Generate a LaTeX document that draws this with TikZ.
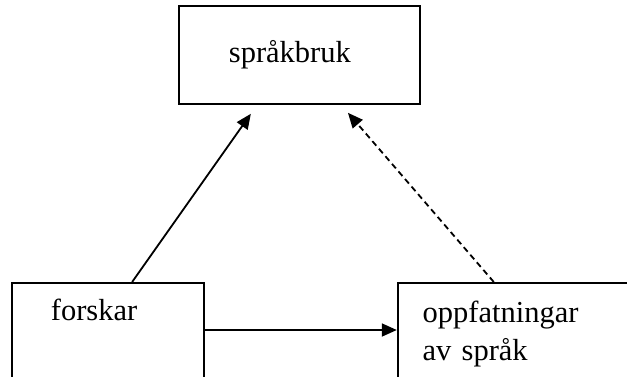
\documentclass[tikz,border=0pt]{standalone}
\usepackage{fontspec}
\setmainfont{Liberation Serif}
\usetikzlibrary{arrows.meta, positioning, calc}
\tikzset{
    box/.style={draw, line width=1.8pt, align=left, inner ysep=0pt,
      font=\fontsize{30.5}{38}\selectfont},
    link/.style={line width=1.8pt, -{Triangle[length=15pt, width=13pt]}},
}

\begin{document}
\begin{tikzpicture}[x=1pt, y=-1pt]
    \useasboundingbox (0,0) rectangle (627,376);

    \node[box, anchor=north west, inner xsep=50pt, text width=141pt,
      text height=57pt, text depth=41pt] (usage) at (178,5) {språkbruk};
    \node[box, anchor=north west, inner xsep=39pt, text width=114pt,
      text height=38pt, text depth=80pt] (researcher) at (11,282) {forskar};
    \node[box, right=192pt of researcher.north east, anchor=north west,
      inner xsep=25pt, text width=250pt, text height=40pt, text depth=80pt]
      (views) {oppfatningar\\av språk};

    \draw[link] ($(researcher.north west)!0.625!(researcher.north east)$)
      -- ($(usage.south west)!0.3!(usage.south east) + (0,9)$);
    \draw[link, dash pattern=on 6pt off 4pt] ([xshift=97pt]views.north west)
      -- ($(usage.south west)!0.7!(usage.south east) + (0,8)$);
    \draw[link] ([yshift=-48pt]researcher.north east)
      -- ([yshift=-48pt]views.north west);

  \end{tikzpicture}
\end{document}
